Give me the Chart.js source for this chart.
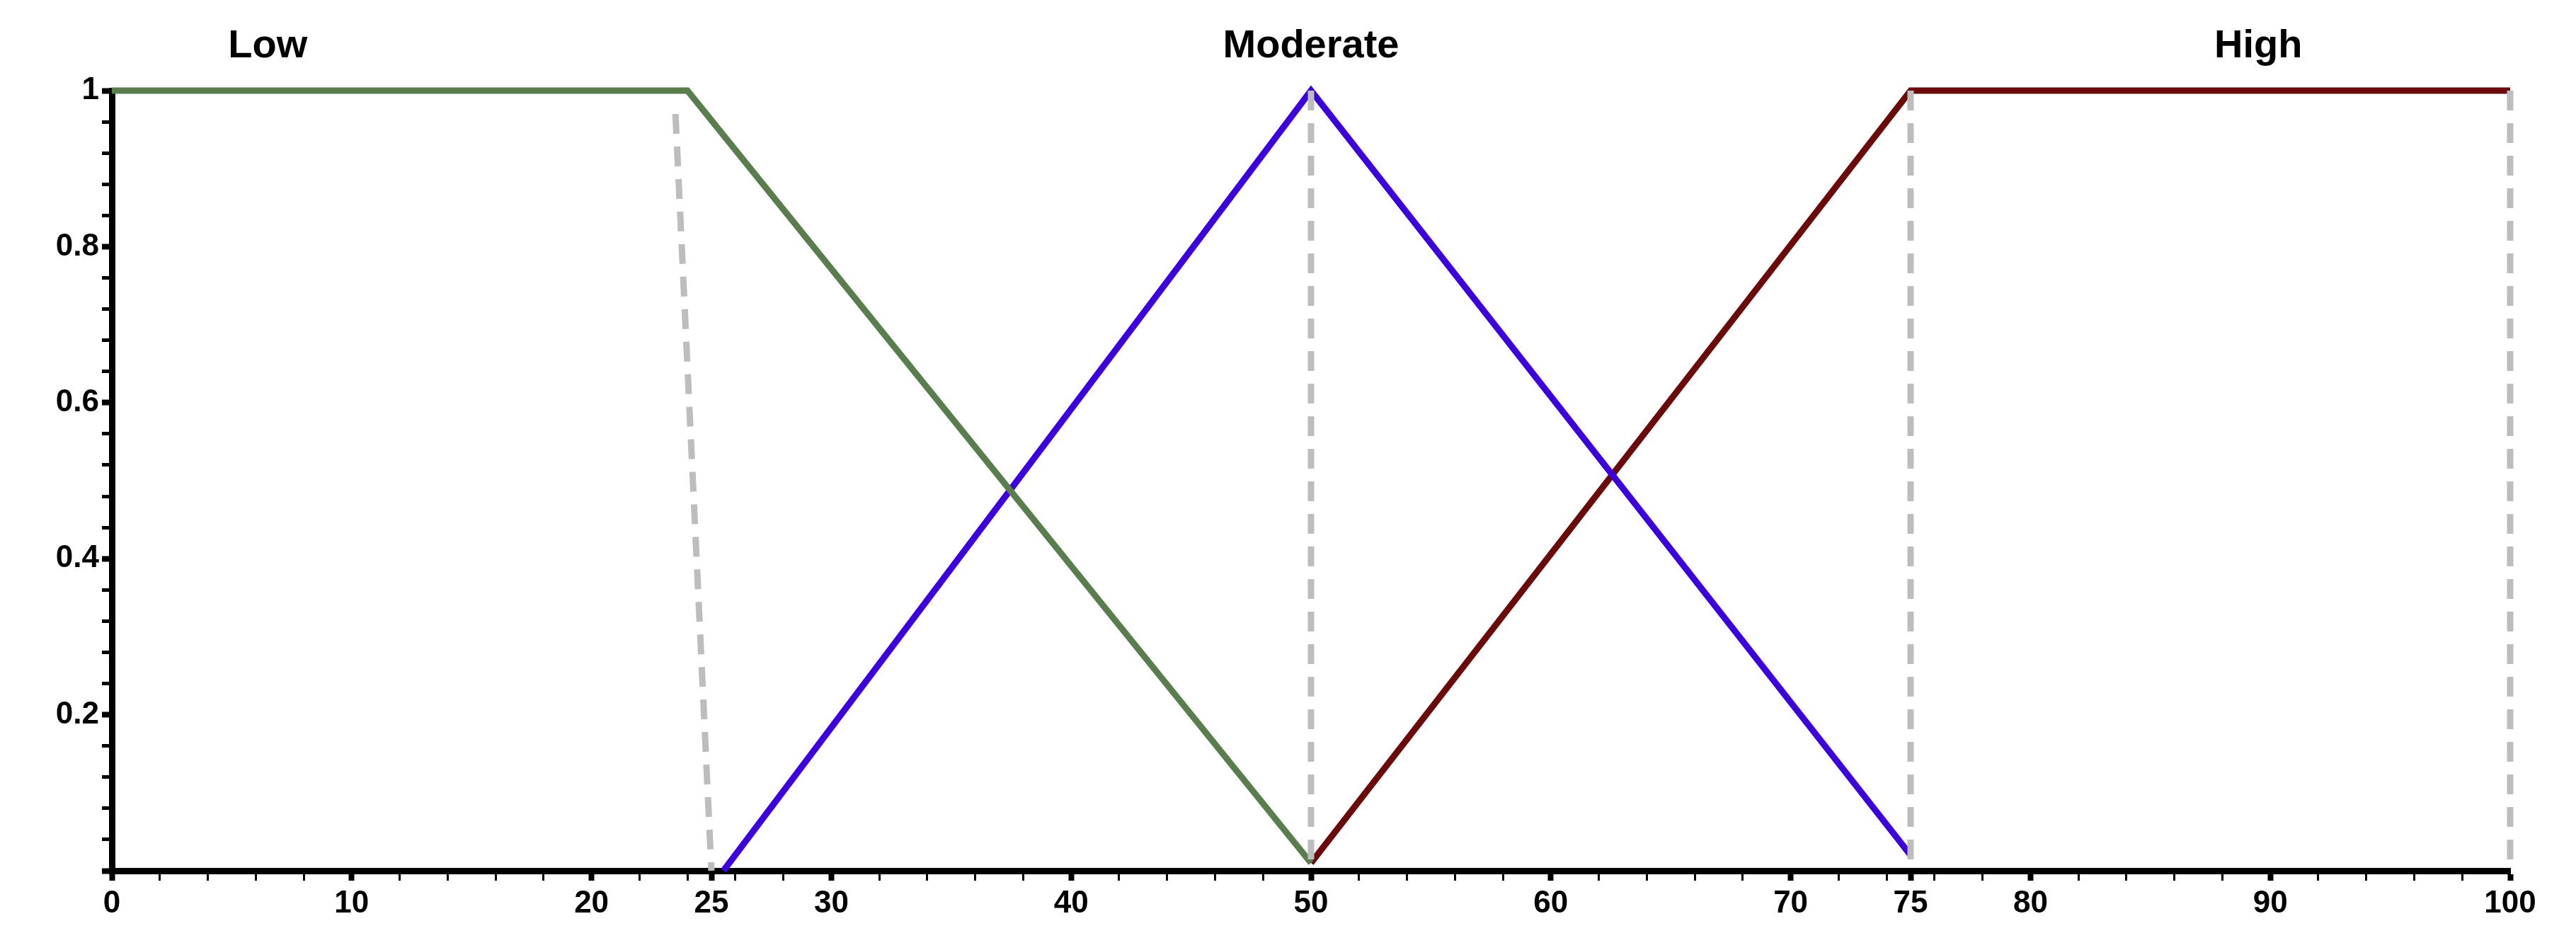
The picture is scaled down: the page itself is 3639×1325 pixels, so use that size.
<!DOCTYPE html>
<html>
<head>
<meta charset="utf-8">
<script src="https://cdn.jsdelivr.net/npm/chart.js@4/dist/chart.umd.min.js"></script>
<style>
  html, body { margin: 0; padding: 0; background: #fff; }
  #wrap { width: 3639px; height: 1325px; }
</style>
</head>
<body>
<div id="wrap"><canvas id="chart"></canvas></div>
<script>
// membership functions: Low / Moderate / High
const lowPts = [[0, 1], [24, 1], [50, 0.01]];
const moderatePts = [[25.5, 0], [50, 1], [75, 0.02]];
const highPts = [[50, 0.01], [75, 1], [100, 1]];
const guideLines = [
    [[23.5, 0.97], [25, 0]],
    [[50, 1], [50, 0]],
    [[75, 1], [75, 0]],
    [[100, 1], [100, 0]]
];
const xMajor = [0, 10, 20, 25, 30, 40, 50, 60, 70, 75, 80, 90, 100];
const yMajor = [0, 0.2, 0.4, 0.6, 0.8, 1];
const setLabels = [['Low', 6.5], ['Moderate', 50], ['High', 89.5]];

const toXY = pts => pts.map(p => ({ x: p[0], y: p[1] }));

const xTicks = [];
for (let v = 0; v <= 100; v += 2) xTicks.push(v);
for (const v of xMajor) if (!xTicks.includes(v)) xTicks.push(v);
xTicks.sort((a, b) => a - b);
const yTicks = [];
for (let i = 0; i <= 25; i++) yTicks.push(Math.round(i * 4) / 100);

const font = { family: 'Liberation Sans, Arial, sans-serif', size: 44, weight: 'bold' };

const datasets = guideLines.map(g => ({
    data: toXY(g),
    borderColor: '#bdbdbd',
    borderWidth: 9,
    borderDash: [28, 18],
    pointRadius: 0
}));
datasets.push(
    { data: toXY(lowPts), borderColor: '#5a7d4e', borderWidth: 9, pointRadius: 0 },
    { data: toXY(moderatePts), borderColor: '#3c00dd', borderWidth: 9, pointRadius: 0 },
    { data: toXY(highPts), borderColor: '#6b0a0a', borderWidth: 9, pointRadius: 0 }
);

// set names above the plot
const namePlugin = {
    id: 'names',
    afterDraw(chart) {
        const ctx = chart.ctx;
        const xs = chart.scales.x;
        ctx.save();
        ctx.font = 'bold 56px Liberation Sans, Arial, sans-serif';
        ctx.fillStyle = '#000';
        ctx.textAlign = 'center';
        ctx.textBaseline = 'middle';
        for (const [txt, v] of setLabels) ctx.fillText(txt, xs.getPixelForValue(v), 66);
        ctx.restore();
    }
};

new Chart(document.getElementById('chart').getContext('2d'), {
    type: 'line',
    data: { datasets },
    options: {
        responsive: true,
        maintainAspectRatio: false,
        animation: false,
        clip: false,
        layout: { padding: { top: 128, right: 93, left: 0, bottom: 0 } },
        plugins: { legend: { display: false }, tooltip: { enabled: false } },
        scales: {
            x: {
                type: 'linear', min: 0, max: 100,
                afterBuildTicks: s => { s.ticks = xTicks.map(v => ({ value: v })); },
                afterFit: s => { s.height = 95; },
                border: { color: '#000', width: 9 },
                grid: {
                    drawOnChartArea: false,
                    tickLength: 14,
                    tickColor: '#000',
                    tickWidth: c => xMajor.includes(c.tick.value) ? 8 : 3
                },
                ticks: {
                    autoSkip: false, maxRotation: 0, color: '#000', font,
                    padding: 6,
                    callback: v => xMajor.includes(v) ? String(v) : ''
                }
            },
            y: {
                type: 'linear', min: 0, max: 1,
                afterBuildTicks: s => { s.ticks = yTicks.map(v => ({ value: v })); },
                afterFit: s => { s.width = 158; },
                border: { color: '#000', width: 9 },
                grid: {
                    drawOnChartArea: false,
                    tickLength: 14,
                    tickColor: '#000',
                    tickWidth: c => yMajor.includes(c.tick.value) ? 8 : 5
                },
                ticks: {
                    autoSkip: false, color: '#000', font, padding: 4,
                    callback: v => (v !== 0 && yMajor.includes(v)) ? String(v) : ''
                }
            }
        }
    },
    plugins: [namePlugin]
});
</script>
</body>
</html>
